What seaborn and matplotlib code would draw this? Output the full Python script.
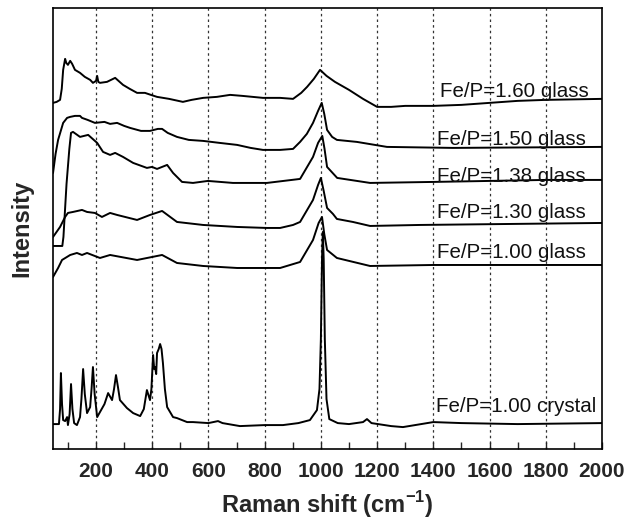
#!/usr/bin/env python3
"""
Espectros Raman de vidrios y cristal de fosfato de hierro (Fe/P).
Curvas leídas a mano del gráfico original, apiladas con desplazamiento.
"""

import pandas as pd
import matplotlib
matplotlib.use('Agg')
import matplotlib.pyplot as plt
import seaborn as sns

# --- datos (desplazamiento Raman en cm-1, intensidad en u.a. ya desplazada) ---
shift_160 = [47, 60, 72, 78, 83, 90, 94, 100, 108, 115, 125, 143, 160, 179, 189, 200, 204, 208,
             214, 239, 268, 296, 320, 346, 374, 395, 417, 460, 509, 540, 581, 630, 677, 720, 794,
             855, 901, 930, 951, 975, 997, 1020, 1050, 1100, 1150, 1200, 1250, 1300, 1400, 1500,
             1600, 1700, 1800, 2000]
int_160 = [346, 347, 349, 360, 379, 390, 386, 384, 388, 385, 379, 376, 372, 369, 366, 368, 373, 367,
           366, 367, 371, 364, 360, 356, 356, 354, 352, 350, 347, 349, 351, 352, 354, 353, 351,
           351, 350, 356, 362, 370, 379, 373, 367, 359, 350, 342, 342, 343, 343, 344,
           346, 348, 349, 350]

shift_150 = [47, 56, 65, 83, 97, 108, 125, 143, 150, 170, 196, 230, 250, 275, 300, 321, 360, 392,
             420, 435, 455, 488, 530, 581, 640, 702, 750, 794, 855, 901, 926, 950, 972, 990, 1003,
             1012, 1022, 1040, 1057, 1128, 1235, 1470, 2000]
int_150 = [276, 295, 309, 326, 331, 332, 333, 333, 331, 329, 326, 327, 325, 326, 323, 321, 318, 318,
           320, 320, 316, 312, 309, 308, 306, 304, 301, 299, 299, 300, 307, 315, 326, 338, 346,
           335, 319, 312, 309, 307, 302, 301, 302]

shift_138 = [47, 80, 84, 95, 105, 111, 118, 143, 172, 204, 225, 250, 268, 296, 332, 381, 399, 417,
             453, 474, 506, 545, 598, 687, 808, 926, 972, 990, 1005, 1013, 1022, 1058, 1175, 1400,
             1600, 1800, 2000]
int_138 = [203, 203, 212, 265, 300, 316, 317, 312, 314, 306, 297, 294, 296, 292, 286, 281, 282, 280,
           284, 276, 267, 266, 268, 266, 266, 270, 292, 306, 313, 300, 282, 271, 266, 267,
           268, 269, 269]

shift_130 = [47, 72, 90, 100, 118, 150, 168, 196, 221, 250, 275, 346, 392, 435, 488, 581, 702, 808,
             855, 901, 926, 972, 990, 1000, 1010, 1022, 1043, 1057, 1114, 1175, 1352, 2000]
int_130 = [212, 222, 232, 236, 237, 239, 237, 236, 232, 236, 234, 229, 234, 238, 227, 224, 222, 221,
           221, 224, 227, 249, 264, 271, 258, 241, 235, 230, 227, 223, 224, 226]

shift_100g = [47, 65, 79, 108, 132, 150, 168, 214, 250, 346, 435, 488, 581, 702, 855, 926, 972, 992,
              1004, 1012, 1022, 1057, 1175, 1400, 2000]
int_100g = [172, 181, 189, 194, 196, 194, 196, 191, 194, 189, 194, 186, 183, 181, 181, 187, 209, 226,
            232, 215, 199, 191, 183, 184, 184]

shift_100c = [47, 68, 72, 75, 79, 83, 90, 97, 100, 106, 111, 116, 122, 132, 143, 148, 154, 160, 168,
              179, 184, 189, 195, 204, 214, 230, 243, 257, 264, 271, 278, 285, 310, 332, 357, 370,
              381, 392, 397, 403, 407, 410, 414, 417, 423, 428, 433, 438, 445, 453, 474, 488, 524,
              545, 600, 634, 650, 712, 800, 865, 920, 961, 986, 995, 1000, 1004, 1007, 1010, 1014,
              1020, 1030, 1060, 1100, 1150, 1164, 1180, 1250, 1292, 1400, 1500, 1700, 2000]
int_100c = [25, 25, 40, 76, 45, 29, 28, 32, 24, 35, 65, 40, 26, 24, 32, 50, 80, 55, 36,
            42, 60, 82, 55, 32, 37, 45, 56, 49, 60, 74, 62, 49, 41, 36, 33, 40,
            59, 49, 60, 94, 80, 82, 75, 96, 100, 105, 100, 86, 60, 42, 32, 31, 27,
            27, 26, 28, 26, 23, 24, 24, 26, 29, 39, 60, 110, 190, 217, 190, 110,
            50, 30, 26, 25, 27, 30, 26, 23, 22, 27, 26, 25, 26]

etiquetas = ['Fe/P=1.60 glass', 'Fe/P=1.50 glass', 'Fe/P=1.38 glass',
             'Fe/P=1.30 glass', 'Fe/P=1.00 glass', 'Fe/P=1.00 crystal']
etiqueta_x = [1425, 1413, 1413, 1413, 1413, 1409]
etiqueta_y = [352, 304, 267, 231, 191, 37]

ticks_x = [200, 400, 600, 800, 1000, 1200, 1400, 1600, 1800, 2000]


def graficar_espectros():
    curvas = [(shift_160, int_160), (shift_150, int_150), (shift_138, int_138),
              (shift_130, int_130), (shift_100g, int_100g), (shift_100c, int_100c)]
    filas = []
    for nombre, (xs, ys) in zip(etiquetas, curvas):
        for x, y in zip(xs, ys):
            filas.append({'muestra': nombre, 'shift': x, 'intensidad': y})
    df = pd.DataFrame(filas)

    sns.set_style('ticks')
    plt.rcParams['font.family'] = ['Liberation Sans', 'DejaVu Sans']
    plt.rcParams['mathtext.fontset'] = 'custom'
    plt.rcParams['mathtext.rm'] = 'Liberation Sans:bold'
    plt.rcParams['mathtext.bf'] = 'Liberation Sans:bold'

    fig = plt.figure(figsize=(6.39, 5.21), dpi=100)
    ax = fig.add_axes([0.083, 0.138, 0.859, 0.847])

    for x in ticks_x[:-1]:
        ax.axvline(x, color='#333333', linestyle=(0, (2, 2.5)), linewidth=0.9, zorder=0)

    sns.lineplot(data=df, x='shift', y='intensidad', units='muestra', estimator=None,
                 sort=False, color='black', linewidth=1.4, ax=ax)

    for texto, x, y in zip(etiquetas, etiqueta_x, etiqueta_y):
        ax.text(x, y, texto, fontsize=14.8, ha='left', va='baseline', color='#111111')

    ax.set_xlim(47, 2000)
    ax.set_ylim(0, 441)
    ax.set_xticks(ticks_x)
    ax.set_xticks(range(100, 2000, 100), minor=True)
    ax.set_yticks([])
    ax.tick_params(axis='x', which='both', direction='in', length=5, width=1, pad=9)
    for lab in ax.get_xticklabels():
        lab.set_fontweight('bold')
        lab.set_fontsize(15)
    for s in ax.spines.values():
        s.set_linewidth(1.2)
        s.set_color('black')

    ax.set_xlabel('Raman shift (cm$^{-1}$)', fontsize=17, weight='bold', labelpad=6)
    ax.set_ylabel('Intensity', fontsize=17, weight='bold', labelpad=14)

    fig.savefig('out.png', dpi=100)


if __name__ == "__main__":
    graficar_espectros()
